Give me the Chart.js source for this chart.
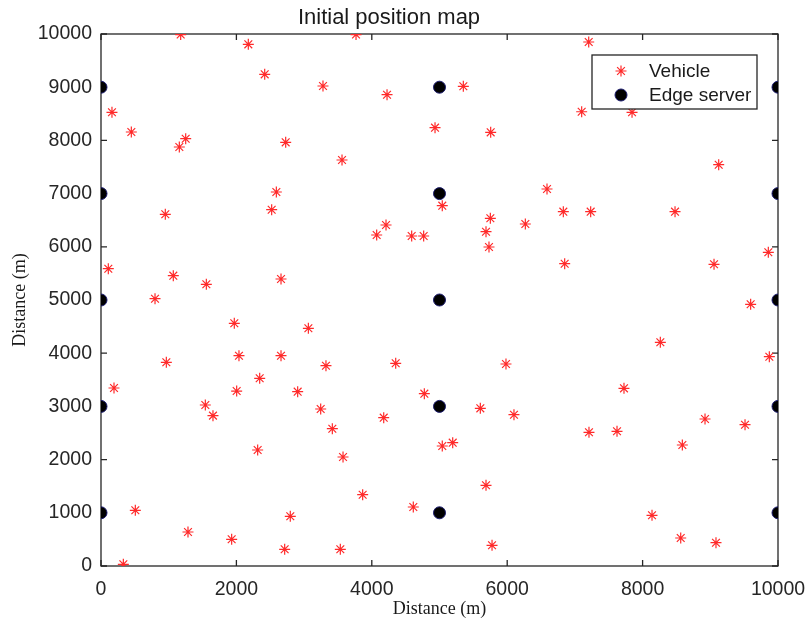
<!DOCTYPE html>
<html>
<head>
<meta charset="utf-8">
<script src="https://cdn.jsdelivr.net/npm/chart.js@4/dist/chart.umd.min.js"></script>
<style>
  html, body { margin: 0; padding: 0; background: #ffffff; }
  #wrap { width: 807px; height: 627px; }
</style>
</head>
<body>
<div id="wrap"><canvas id="c" width="807" height="627"></canvas></div>
<script>
// ---- data ----
const chartTitle = 'Initial position map';
const xAxisTitle = 'Distance (m)';
const yAxisTitle = 'Distance (m)';
const seriesNames = ['Vehicle', 'Edge server'];

const vehicleX = [1177, 2176, 2418, 3767, 3279, 4225, 162, 448, 1251, 1157, 2728, 3560, 2590, 2521, 950, 4934,
  4072, 4210, 4589, 4766, 108, 1068, 1556, 2659, 798, 1969, 3063, 965, 2038, 2659, 3323, 4353, 2344, 192, 2004, 2905, 4776, 1541,
  7204, 5352, 7100, 7844, 5756, 9124, 6588, 5041, 6829, 7233, 8479,
  5751, 5687, 6268, 5731, 6849, 9857, 9055, 9596, 8262, 9872, 5982, 7725,
  1654, 3245, 3417, 4176, 5041, 5195, 2314, 3575, 3865, 507, 4613, 1285, 2796, 1930, 2713, 3535, 330,
  5603, 6100, 7208, 7622, 8922, 9513, 8587, 5687, 8139, 5776, 8563, 9084];
const vehicleY = [9990, 9806, 9242, 9990, 9023, 8859, 8528, 8158, 8032, 7876, 7964, 7632, 7030, 6697, 6611, 8239,
  6222, 6410, 6203, 6203, 5588, 5457, 5295, 5395, 5024, 4562, 4468, 3829, 3953, 3953, 3765, 3810, 3528, 3346, 3289, 3277, 3239, 3026,
  9850, 9017, 8539, 8528, 8152, 7543, 7086, 6773, 6660, 6660, 6660,
  6536, 6284, 6429, 5996, 5682, 5897, 5671, 4919, 4205, 3934, 3797, 3340,
  2826, 2951, 2581, 2788, 2256, 2318, 2180, 2049, 1340, 1047, 1109, 639, 934, 502, 314, 314, 32,
  2964, 2844, 2513, 2532, 2763, 2656, 2274, 1517, 953, 389, 526, 438];

const serverX = [0, 0, 0, 0, 0, 5000, 5000, 5000, 5000, 5000, 10000, 10000, 10000, 10000, 10000];
const serverY = [1000, 3000, 5000, 7000, 9000, 1000, 3000, 5000, 7000, 9000, 1000, 3000, 5000, 7000, 9000];

const xTicks = [0, 2000, 4000, 6000, 8000, 10000];
const yTicks = [0, 1000, 2000, 3000, 4000, 5000, 6000, 7000, 8000, 9000, 10000];

// ---- styles ----
const axisColor = '#262626';
const vehicleColor = '#ff2a2a';
const serverFill = '#000000';
const serverEdge = '#1c1c6e';
const tickFont = { family: '"Liberation Sans", Arial, sans-serif', size: 19.5 };
const titleFont = { family: '"Liberation Sans", Arial, sans-serif', size: 22, weight: 'normal', lineHeight: 1 };
const axisTitleFont = { family: '"Liberation Serif", "Times New Roman", serif', size: 18 };
const legendFont = '19px "Liberation Sans", Arial, sans-serif';

const vehiclePts = vehicleX.map((x, i) => ({ x: x, y: vehicleY[i] }));
const serverPts = serverX.map((x, i) => ({ x: x, y: serverY[i] }));

function drawStar(ctx, x, y, r) {
  ctx.beginPath();
  ctx.moveTo(x - r, y); ctx.lineTo(x + r, y);
  ctx.moveTo(x, y - r); ctx.lineTo(x, y + r);
  const d = r * Math.SQRT1_2;
  ctx.moveTo(x - d, y - d); ctx.lineTo(x + d, y + d);
  ctx.moveTo(x - d, y + d); ctx.lineTo(x + d, y - d);
  ctx.stroke();
}

const framePlugin = {
  id: 'frame',
  beforeDatasetsDraw(chart) {
    const { ctx, chartArea: a, scales } = chart;
    ctx.save();
    ctx.strokeStyle = axisColor;
    ctx.lineWidth = 1.3;
    ctx.strokeRect(a.left, a.top, a.right - a.left, a.bottom - a.top);
    const tl = 6;
    ctx.beginPath();
    xTicks.forEach(v => {
      const px = scales.x.getPixelForValue(v);
      ctx.moveTo(px, a.bottom); ctx.lineTo(px, a.bottom - tl);
      ctx.moveTo(px, a.top); ctx.lineTo(px, a.top + tl);
    });
    yTicks.forEach(v => {
      const py = scales.y.getPixelForValue(v);
      ctx.moveTo(a.left, py); ctx.lineTo(a.left + tl, py);
      ctx.moveTo(a.right, py); ctx.lineTo(a.right - tl, py);
    });
    ctx.stroke();
    ctx.restore();
  }
};

const legendPlugin = {
  id: 'boxLegend',
  afterDatasetsDraw(chart) {
    const { ctx, chartArea: a } = chart;
    const w = 165, h = 54;
    const left = a.right - 21 - w;
    const top = a.top + 21;
    ctx.save();
    ctx.fillStyle = '#ffffff';
    ctx.fillRect(left, top, w, h);
    ctx.strokeStyle = axisColor;
    ctx.lineWidth = 1.3;
    ctx.strokeRect(left, top, w, h);
    ctx.strokeStyle = vehicleColor;
    ctx.lineWidth = 1.2;
    drawStar(ctx, left + 29, top + 16, 5.5);
    ctx.beginPath();
    ctx.arc(left + 29, top + 40, 6, 0, Math.PI * 2);
    ctx.fillStyle = serverFill;
    ctx.fill();
    ctx.strokeStyle = serverEdge;
    ctx.lineWidth = 1;
    ctx.stroke();
    ctx.fillStyle = '#1a1a1a';
    ctx.font = legendFont;
    ctx.textBaseline = 'middle';
    ctx.textAlign = 'left';
    ctx.fillText(seriesNames[0], left + 57, top + 17);
    ctx.fillText(seriesNames[1], left + 57, top + 41);
    ctx.restore();
  }
};

const plainTick = v => String(v);

new Chart(document.getElementById('c'), {
  type: 'scatter',
  data: {
    datasets: [
      {
        label: seriesNames[0],
        data: vehiclePts,
        pointStyle: 'star',
        pointRadius: 5.5,
        borderColor: vehicleColor,
        backgroundColor: vehicleColor,
        borderWidth: 1.2
      },
      {
        label: seriesNames[1],
        data: serverPts,
        pointStyle: 'circle',
        pointRadius: 6,
        backgroundColor: serverFill,
        borderColor: serverEdge,
        borderWidth: 1
      }
    ]
  },
  options: {
    responsive: false,
    animation: false,
    devicePixelRatio: 1,
    layout: { padding: { left: 0, right: 29, top: 0, bottom: 0 } },
    plugins: {
      legend: { display: false },
      tooltip: { enabled: false },
      title: {
        display: true,
        text: chartTitle,
        color: '#1a1a1a',
        font: titleFont,
        padding: { top: 6.5, bottom: 5.5 }
      }
    },
    scales: {
      x: {
        type: 'linear',
        min: 0, max: 10000,
        afterBuildTicks(scale) { scale.ticks = xTicks.map(v => ({ value: v })); },
        afterFit(scale) { scale.height = 61; scale.paddingLeft = 0; scale.paddingRight = 0; },
        ticks: { color: axisColor, font: tickFont, padding: 12, maxRotation: 0, callback: plainTick },
        grid: { display: false, drawTicks: false },
        border: { display: false },
        title: { display: true, text: xAxisTitle, color: '#1a1a1a', font: axisTitleFont, padding: { top: 0, bottom: 7 } }
      },
      y: {
        type: 'linear',
        min: 0, max: 10000,
        afterBuildTicks(scale) { scale.ticks = yTicks.map(v => ({ value: v })); },
        afterFit(scale) { scale.width = 101; scale.paddingTop = 0; scale.paddingBottom = 0; },
        ticks: { color: axisColor, font: tickFont, padding: 9, callback: plainTick },
        grid: { display: false, drawTicks: false },
        border: { display: false },
        title: { display: true, text: yAxisTitle, color: '#1a1a1a', font: axisTitleFont, padding: { top: 9, bottom: 0 } }
      }
    }
  },
  plugins: [framePlugin, legendPlugin]
});
</script>
</body>
</html>
